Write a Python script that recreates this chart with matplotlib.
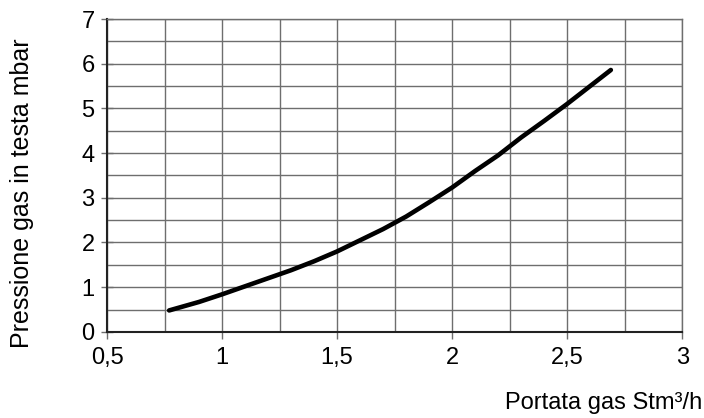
import numpy as np
import matplotlib.pyplot as plt
from matplotlib.ticker import MultipleLocator

plt.rcParams['font.family'] = ['Liberation Sans', 'DejaVu Sans']

# portata gas (Stm3/h) vs pressione in testa (mbar)
portata = [0.77, 0.9, 1.0, 1.1, 1.2, 1.3, 1.4, 1.5, 1.6, 1.7,
           1.8, 1.9, 2.0, 2.1, 2.2, 2.3, 2.4, 2.5, 2.6, 2.69]
pressione = [0.48, 0.67, 0.84, 1.02, 1.20, 1.38, 1.58, 1.80, 2.05, 2.30,
             2.58, 2.90, 3.23, 3.60, 3.95, 4.35, 4.72, 5.10, 5.50, 5.86]

x_ticks = [0.5, 1, 1.5, 2, 2.5, 3]
x_tick_labels = ['0,5', '1', '1,5', '2', '2,5', '3']
y_ticks = [0, 1, 2, 3, 4, 5, 6, 7]

fig = plt.figure(figsize=(7.04, 4.18), dpi=100)
ax = fig.add_axes([0.152, 0.206, 0.817, 0.7485])

ax.plot(portata, pressione, color='black', lw=3.3, solid_capstyle='round', zorder=3)

ax.set_xlim(0.5, 3)
ax.set_ylim(0, 7)
ax.set_xticks(x_ticks)
ax.set_xticklabels(x_tick_labels)
ax.set_yticks(y_ticks)
ax.xaxis.set_minor_locator(MultipleLocator(0.25))
ax.yaxis.set_minor_locator(MultipleLocator(0.5))
ax.grid(which='both', color='#6e6e6e', lw=1)
ax.tick_params(which='minor', length=0)
ax.tick_params(axis='x', which='major', direction='out', length=5, width=1,
               labelsize=17, pad=6, color='#6e6e6e')
ax.tick_params(axis='y', which='major', direction='inout', length=8, width=1,
               labelsize=17, pad=5, color='#6e6e6e')

for side in ['top', 'right']:
    ax.spines[side].set_color('#6e6e6e')
    ax.spines[side].set_linewidth(1)
for side in ['left', 'bottom']:
    ax.spines[side].set_color('#222222')
    ax.spines[side].set_linewidth(1.5)

fig.text(0.031, 0.537, 'Pressione gas in testa mbar', fontsize=18, rotation=90,
         ha='center', va='center')
fig.text(0.997, 0.01, 'Portata gas Stm³/h', fontsize=17, ha='right', va='bottom')

fig.savefig('out.png', dpi=100)
